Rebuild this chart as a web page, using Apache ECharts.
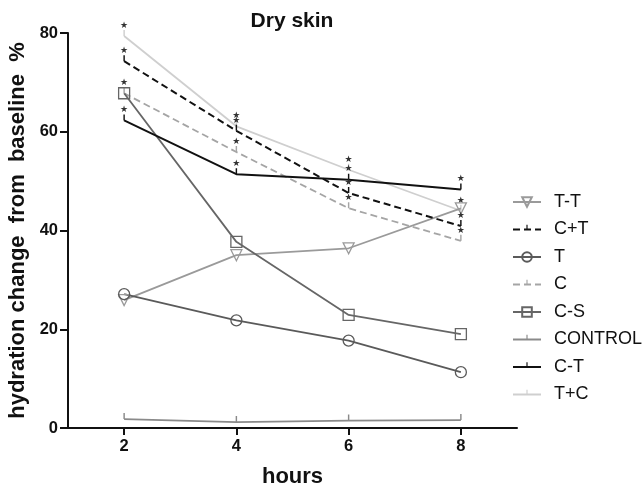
<!DOCTYPE html>
<html>
<head>
<meta charset="utf-8">
<script src="https://cdn.jsdelivr.net/npm/echarts@6/dist/echarts.min.js"></script>
<style>
  html, body { margin: 0; padding: 0; background: #fff; }
  #chart { width: 644px; height: 485px; }
</style>
</head>
<body>
<div id="chart"></div>
<script>
// hours after application
const hours = [2, 4, 6, 8];
const hourTicks = [2, 4, 6, 8];

// hydration change (%) per group
const ttValues = [25.9, 35.0, 36.4, 44.5];
const cPlusTValues = [74.3, 60.2, 47.6, 40.9];
const tValues = [27.1, 21.8, 17.7, 11.3];
const cValues = [67.8, 55.9, 44.5, 37.9];
const csValues = [67.8, 37.7, 22.9, 19.0];
const controlValues = [1.8, 1.2, 1.5, 1.6];
const ctValues = [62.3, 51.4, 50.3, 48.3];
const tPlusCValues = [79.4, 61.1, 52.3, 44.0];

const FONT = 'Liberation Sans, Arial, sans-serif';

// small upright tick sitting on the line (corner dots keep the box square)
const TICK = 'path://M0,0L0.01,0L0,0.01Z M10,10L9.99,10L10,9.99Z M4.4,0L5.6,0L5.6,5L4.4,5Z';

function pairs (vals) {
    return vals.map((v, i) => [hours[i], v]);
}

// significance mark drawn over each point
const star = {
    show: true,
    formatter: '★',
    position: 'top',
    distance: 0,
    color: '#333',
    fontSize: 9,
    fontFamily: 'DejaVu Sans'
};

function mk (name, vals, opt) {
    const color = opt.color;
    return {
        name: name,
        type: 'line',
        data: pairs(vals),
        symbol: opt.symbol || TICK,
        symbolSize: opt.size || 12,
        symbolRotate: opt.rotate || 0,
        showAllSymbol: true,
        lineStyle: { color: color, width: opt.width || 1.8, type: opt.dash ? [7, 4] : 'solid' },
        itemStyle: opt.hollow
            ? { color: 'rgba(255,255,255,0)', borderColor: color, borderWidth: 1.3 }
            : { color: color, borderWidth: 0 },
        label: opt.star ? star : { show: false },
        emphasis: { disabled: true },
        z: opt.z || 2,
        animation: false
    };
}

const chart = echarts.init(document.getElementById('chart'));
chart.setOption({
    backgroundColor: '#fff',
    animation: false,
    title: {
        text: 'Dry skin',
        left: 287,
        textAlign: 'center',
        top: 6,
        textStyle: { fontFamily: FONT, fontWeight: 'bold', fontSize: 21, color: '#111' }
    },
    legend: {
        orient: 'vertical',
        left: 507,
        top: 188,
        itemWidth: 28,
        itemHeight: 12,
        itemGap: 9.5,
        textStyle: { fontFamily: FONT, fontSize: 18, color: '#111', padding: [0, 0, 0, 8] },
        data: ['T-T', 'C+T', 'T', 'C', 'C-S', 'CONTROL', 'C-T', 'T+C']
    },
    grid: { left: 68, top: 33, right: 127, bottom: 57, outerBoundsMode: 'none', containLabel: false },
    xAxis: {
        type: 'value',
        min: 1,
        max: 9,
        interval: 1,
        name: 'hours',
        nameLocation: 'middle',
        nameGap: 38,
        nameTextStyle: { fontFamily: FONT, fontWeight: 'bold', fontSize: 22, color: '#111' },
        axisLine: { lineStyle: { color: '#111', width: 2 } },
        axisTick: { customValues: hourTicks, length: 7, lineStyle: { color: '#111', width: 2 } },
        axisLabel: { customValues: hourTicks, fontFamily: FONT, fontWeight: 'bold', fontSize: 16.5, color: '#111', margin: 10 },
        splitLine: { show: false }
    },
    yAxis: {
        type: 'value',
        min: 0,
        max: 80,
        interval: 20,
        name: 'hydration change  from  baseline  %',
        nameLocation: 'middle',
        nameGap: 28,
        nameTextStyle: { fontFamily: FONT, fontWeight: 'bold', fontSize: 22, color: '#111' },
        axisLine: { show: true, lineStyle: { color: '#111', width: 2 } },
        axisTick: { show: true, length: 8, lineStyle: { color: '#111', width: 2 } },
        axisLabel: { fontFamily: FONT, fontWeight: 'bold', fontSize: 16.5, color: '#111', margin: 10 },
        splitLine: { show: false }
    },
    series: [
        mk('T-T', ttValues, { color: '#9a9a9a', symbol: 'triangle', size: 11, rotate: 180, hollow: true }),
        mk('C+T', cPlusTValues, { color: '#111', dash: true, star: true, width: 2 }),
        mk('T', tValues, { color: '#5a5a5a', symbol: 'circle', size: 11, hollow: true }),
        mk('C', cValues, { color: '#a5a5a5', dash: true, star: true }),
        mk('C-S', csValues, { color: '#666', symbol: 'rect', size: 11, hollow: true }),
        mk('CONTROL', controlValues, { color: '#8a8a8a' }),
        mk('C-T', ctValues, { color: '#111', star: true, width: 2 }),
        mk('T+C', tPlusCValues, { color: '#cfcfcf', star: true, z: 1 })
    ]
});
</script>
</body>
</html>
